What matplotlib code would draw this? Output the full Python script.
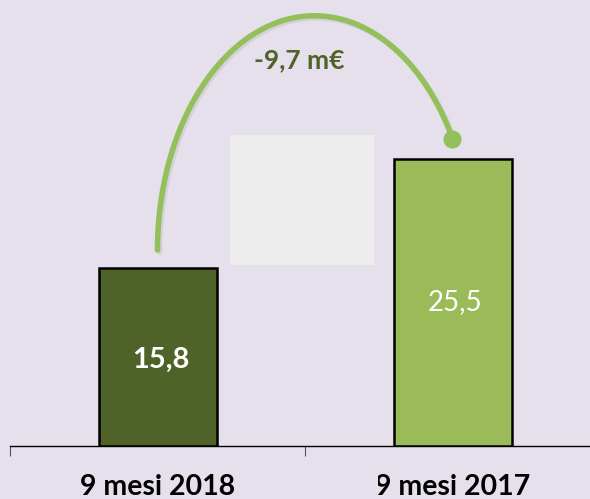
import numpy as np
import matplotlib
matplotlib.use("Agg")
from matplotlib import pyplot as plt
from matplotlib import patheffects as pe
from matplotlib.patches import Rectangle

# data
categories = ["9 mesi 2018", "9 mesi 2017"]
values = [15.8, 25.5]
value_labels = ["15,8", "25,5"]
delta_label = "-9,7 m€"

bg = "#E5E0EC"
dark_green = "#4F6228"
light_green = "#9BBB59"
arc_green = "#93C05A"

fig = plt.figure(figsize=(5.9, 4.99), dpi=100, facecolor=bg)
ax = fig.add_axes([10 / 590, 53 / 499, 590 / 590, 446 / 499])
ax.set_facecolor(bg)

x = np.arange(len(categories))
ax.bar(x, values, width=0.40, color=[dark_green, light_green],
       edgecolor="black", linewidth=1.8, zorder=3)
ax.set_xlim(-0.5, 1.5)
ax.set_ylim(0, 39.6)

for s in ["top", "left", "right"]:
    ax.spines[s].set_visible(False)
ax.spines["bottom"].set_color("black")
ax.spines["bottom"].set_linewidth(1.0)
ax.set_yticks([])
ax.set_xticks(x, categories, fontsize=20.5, fontweight="bold", family="Lato")
ax.tick_params(axis="x", length=0, pad=20)
ax.set_xticks([-0.5, 0.5, 1.5], minor=True)
ax.tick_params(axis="x", which="minor", length=7.5, width=0.8, color="#555555")

# values inside bars
ax.text(0.01, values[0] * 0.485, value_labels[0], ha="center", va="center",
        color="white", fontsize=21, fontweight="bold", family="Lato", zorder=4)
ax.text(1.01, values[1] * 0.50, value_labels[1], ha="center", va="center",
        color="white", fontsize=20, family="Lato", zorder=4)

# arc from bar 1 to bar 2 (elliptical, vertical tangent at start)
y0 = values[0] + 1.6
y1 = values[1] + 1.8
peak = 38.2
b = peak - y0
r = np.sqrt(1 - ((y1 - y0) / b) ** 2)
cx = x[1] / (1 + r)
a = cx - x[0]
t_end = np.arcsin((y1 - y0) / b)
t = np.linspace(np.pi, t_end, 200)
shadow = [pe.SimpleLineShadow(offset=(1.5, -1.5), alpha=0.15, shadow_color="gray"), pe.Normal()]
ax.plot(cx + a * np.cos(t), y0 + b * np.sin(t), color=arc_green, lw=4,
        solid_capstyle="round", zorder=2, path_effects=shadow)
ax.plot([cx + a * np.cos(t_end)], [y1], "o", color=arc_green, ms=12, zorder=2)

ax.text(cx - 0.05, 34.3, delta_label, ha="center", va="center", color=dark_green,
        fontsize=19, fontweight="bold", family="Lato", zorder=4)

# light grey box between bars
fig.patches.append(Rectangle((230 / 590, (499 - 265) / 499), 144 / 590, 130 / 499,
                             transform=fig.transFigure, facecolor="#EDEDED",
                             edgecolor="none", zorder=1))
# cover left edge of second label
fig.patches.append(Rectangle((364 / 590, 0), 14 / 590, 30 / 499,
                             transform=fig.transFigure, facecolor=bg,
                             edgecolor="none", zorder=5))

fig.savefig("out.png", dpi=100, facecolor=bg)
